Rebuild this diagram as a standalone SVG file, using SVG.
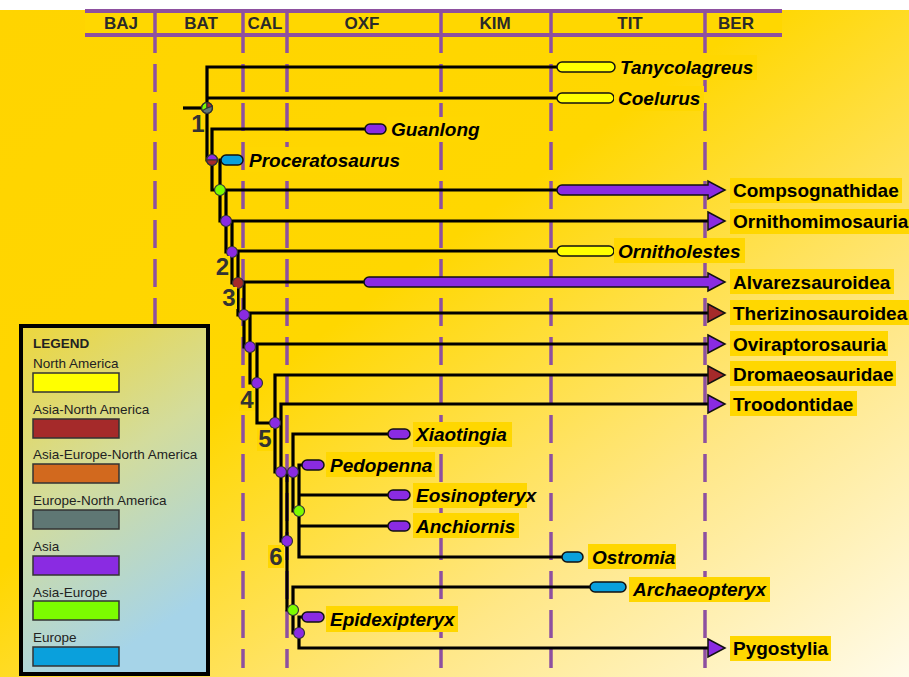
<svg xmlns="http://www.w3.org/2000/svg" width="909" height="677" viewBox="0 0 909 677">
<defs>
<linearGradient id="bg" x1="0" y1="0" x2="1" y2="1">
<stop offset="0" stop-color="#FFD400"/>
<stop offset="0.42" stop-color="#FFD700"/>
<stop offset="0.72" stop-color="#FFE786"/>
<stop offset="1" stop-color="#FFFBEA"/>
</linearGradient>
<linearGradient id="lg" x1="0" y1="0" x2="0.35" y2="1">
<stop offset="0" stop-color="#EDD63C"/>
<stop offset="0.5" stop-color="#D3DC9C"/>
<stop offset="1" stop-color="#A6D4E8"/>
</linearGradient>
<style>
.hdr{stroke:#8E50A0;stroke-width:4;fill:none}
.div{stroke:#8E50A0;stroke-width:3.5;fill:none}
.dash{stroke:#8E50A0;stroke-width:3.5;stroke-dasharray:28 11;fill:none}
.ht{font-family:"Liberation Sans Narrow","Liberation Sans",Arial,sans-serif;font-weight:bold;font-size:17px;fill:#2a2a2a;text-anchor:middle}
.br{stroke:#000;stroke-width:3.2;fill:none;stroke-linejoin:miter}
.bar{stroke:#111;stroke-width:1.5}
.nd{stroke:#333;stroke-width:1.2}
.box{fill:#FFD700}
.lab{font-family:"Liberation Sans",Arial,sans-serif;font-weight:bold;font-size:19px;fill:#000}
.it{font-style:italic}
.num{font-family:"Liberation Sans",Arial,sans-serif;font-weight:bold;font-size:24px;fill:#333;text-anchor:middle}
.lgt{font-family:"Liberation Sans",Arial,sans-serif;font-size:13.5px;fill:#222}
.sw{stroke:#333;stroke-width:1.5}
.NA{fill:#FFFF00}.ANA{fill:#A52A2A}.AENA{fill:#D2691E}.ENA{fill:#5F7774}.AS{fill:#8A2BE2}.AE{fill:#7CFC00}.EU{fill:#0AA0DC}
</style>
</defs>
<rect x="0" y="0" width="909" height="677" fill="#FFFFFF"/>
<rect x="0" y="10" width="909" height="667" fill="url(#bg)"/>

<g id="timescale">
<g class="dash">
<line x1="155" y1="25" x2="155" y2="668"/>
<line x1="243" y1="25" x2="243" y2="668"/>
<line x1="287" y1="25" x2="287" y2="668"/>
<line x1="441" y1="25" x2="441" y2="668"/>
<line x1="551" y1="25" x2="551" y2="668"/>
<line x1="705" y1="25" x2="705" y2="668"/>
</g>
<rect x="85" y="11" width="697" height="24" fill="#FFD700"/>
<line class="hdr" x1="85" y1="11" x2="782" y2="11"/>
<line class="hdr" x1="85" y1="35" x2="782" y2="35"/>
<g class="div">
<line x1="155" y1="11" x2="155" y2="35"/>
<line x1="243" y1="11" x2="243" y2="35"/>
<line x1="287" y1="11" x2="287" y2="35"/>
<line x1="441" y1="11" x2="441" y2="35"/>
<line x1="551" y1="11" x2="551" y2="35"/>
<line x1="705" y1="11" x2="705" y2="35"/>
</g>
<text class="ht" x="121" y="29">BAJ</text>
<text class="ht" x="201" y="29">BAT</text>
<text class="ht" x="265" y="29">CAL</text>
<text class="ht" x="362" y="29">OXF</text>
<text class="ht" x="495" y="29">KIM</text>
<text class="ht" x="630" y="29">TIT</text>
<text class="ht" x="736" y="29">BER</text>
</g>

<g id="legend">
<rect x="21" y="326" width="187" height="348" fill="url(#lg)" stroke="#000" stroke-width="4"/>
<text class="lgt" x="33" y="348" font-weight="bold">LEGEND</text>
<text class="lgt" x="33" y="368">North America</text>
<rect class="sw NA" x="33" y="373" width="86" height="19"/>
<text class="lgt" x="33" y="414">Asia-North America</text>
<rect class="sw ANA" x="33" y="419" width="86" height="19"/>
<text class="lgt" x="33" y="459">Asia-Europe-North America</text>
<rect class="sw AENA" x="33" y="464" width="86" height="19"/>
<text class="lgt" x="33" y="505">Europe-North America</text>
<rect class="sw ENA" x="33" y="510" width="86" height="19"/>
<text class="lgt" x="33" y="551">Asia</text>
<rect class="sw AS" x="33" y="556" width="86" height="19"/>
<text class="lgt" x="33" y="597">Asia-Europe</text>
<rect class="sw AE" x="33" y="601" width="86" height="19"/>
<text class="lgt" x="33" y="642">Europe</text>
<rect class="sw EU" x="33" y="647" width="86" height="19"/>
</g>

<g id="connectors" class="br">
<path d="M183,108 H207"/>
<path d="M557,67 H207 V160 H212"/>
<path d="M207,98 H557"/>
<path d="M366,129 H212 V190 H220"/>
<path d="M222,160 H220 V190"/>
<path d="M557,190 H226 V252 H232"/>
<path d="M220,190 V221 H226"/>
<path d="M708,221 H232 V283 H238"/>
<path d="M557,251 H238 V315 H244"/>
<path d="M366,282 H244 V347 H250"/>
<path d="M708,313 H250 V383 H257"/>
<path d="M708,344 H257 V423 H275"/>
<path d="M708,375 H275 V472 H281"/>
<path d="M708,404 H281 V541 H287"/>
<path d="M293,472 H287 V610 H293"/>
<path d="M390,434 H293 V511 H299"/>
<path d="M303,465 H299 V557 H563"/>
<path d="M299,495 H390"/>
<path d="M299,526 H390"/>
<path d="M591,587 H293 V633 H299"/>
<path d="M303,617 H299 V648 H708"/>
</g>

<g id="bars" class="bar">
<rect class="NA" x="557" y="62" width="58" height="10" rx="5"/>
<rect class="NA" x="557" y="93" width="57" height="10" rx="5"/>
<rect class="AS" x="365" y="124" width="21" height="10" rx="5"/>
<rect class="EU" x="221" y="155" width="22" height="10" rx="5"/>
<path class="AS" d="M562,185 H708 V181 L725,190 L708,199 V195 H562 A5,5 0 0 1 562,185 Z"/>
<polygon class="AS" points="708,212 725,221 708,230"/>
<rect class="NA" x="557" y="246" width="57" height="10" rx="5"/>
<path class="AS" d="M369,277 H708 V273 L725,282 L708,291 V287 H369 A5,5 0 0 1 369,277 Z"/>
<polygon class="ANA" points="708,304 725,313 708,322"/>
<polygon class="AS" points="708,335 725,344 708,353"/>
<polygon class="ANA" points="708,366 725,375 708,384"/>
<polygon class="AS" points="708,395 725,404 708,413"/>
<rect class="AS" x="388" y="429" width="22" height="10" rx="5"/>
<rect class="AS" x="302" y="460" width="22" height="10" rx="5"/>
<rect class="AS" x="388" y="490" width="22" height="10" rx="5"/>
<rect class="AS" x="388" y="521" width="22" height="10" rx="5"/>
<rect class="EU" x="562" y="552" width="21" height="10" rx="5"/>
<rect class="EU" x="590" y="582" width="36" height="10" rx="5"/>
<rect class="AS" x="302" y="612" width="22" height="10" rx="5"/>
<polygon class="AS" points="708,639 725,648 708,657"/>
</g>

<g id="nodes" class="nd">
<g id="node1">
<circle class="ENA" cx="207" cy="108" r="5.5"/>
<path class="AE" d="M207,108 L207,102.5 A5.5,5.5 0 0 0 202.2,110.7 Z"/>
<path class="ANA" d="M207,108 L207,102.5 A5.5,5.5 0 0 1 212.2,106.3 Z"/>
<circle cx="207" cy="108" r="5.5" fill="none"/>
</g>
<g id="nodeP">
<path class="AS" d="M206.5,160 A5.5,5.5 0 0 1 217.5,160 Z"/>
<path class="ANA" d="M206.5,160 A5.5,5.5 0 0 0 217.5,160 Z"/>
<circle cx="212" cy="160" r="5.5" fill="none"/>
</g>
<circle id="nodeG1" class="AE" cx="220" cy="190" r="5.5"/>
<circle id="nodeA" class="AS" cx="226" cy="221" r="5.5"/>
<circle id="nodeB" class="AS" cx="232" cy="252" r="5.5"/>
<circle id="nodeC" class="ANA" cx="238" cy="283" r="5.5"/>
<circle id="nodeD" class="AS" cx="244" cy="315" r="5.5"/>
<circle id="nodeE" class="AS" cx="250" cy="347" r="5.5"/>
<circle id="nodeF" class="AS" cx="257" cy="383" r="5.5"/>
<circle id="nodeG" class="AS" cx="275" cy="423" r="5.5"/>
<circle id="nodeH" class="AS" cx="281" cy="472" r="5.5"/>
<circle id="nodeI" class="AS" cx="293" cy="472" r="5.5"/>
<circle id="nodeJ" class="AE" cx="299" cy="511" r="5.5"/>
<circle id="nodeK" class="AS" cx="287" cy="541" r="5.5"/>
<circle id="nodeL" class="AE" cx="293" cy="610" r="5.5"/>
<circle id="nodeM" class="AS" cx="299" cy="633" r="5.5"/>
</g>

<g id="numbers">
<text class="num" x="198" y="132">1</text>
<rect class="box" x="215" y="256" width="15" height="22"/>
<text class="num" x="222.5" y="275">2</text>
<rect class="box" x="222" y="287" width="15" height="22"/>
<text class="num" x="229" y="306">3</text>
<rect class="box" x="239" y="388" width="16" height="23"/>
<text class="num" x="247" y="408">4</text>
<rect class="box" x="257" y="428" width="16" height="23"/>
<text class="num" x="265" y="447">5</text>
<rect class="box" x="268" y="545" width="16" height="23"/>
<text class="num" x="276" y="565">6</text>
</g>

<g id="labels">
<g id="t-tanycolagreus"><rect class="box" x="616" y="55" width="141" height="25"/><text class="lab it" x="620" y="74">Tanycolagreus</text></g>
<g id="t-coelurus"><rect class="box" x="614" y="86" width="90" height="25"/><text class="lab it" x="618" y="105">Coelurus</text></g>
<g id="t-guanlong"><rect class="box" x="387" y="117" width="97" height="25"/><text class="lab it" x="391" y="136">Guanlong</text></g>
<g id="t-proceratosaurus"><rect class="box" x="245" y="147" width="158" height="25"/><text class="lab it" x="249" y="167">Proceratosaurus</text></g>
<g id="t-compsognathidae"><rect class="box" x="730" y="178" width="172" height="25"/><text class="lab" x="733" y="197">Compsognathidae</text></g>
<g id="t-ornithomimosauria"><rect class="box" x="730" y="209" width="181" height="25"/><text class="lab" x="733" y="228">Ornithomimosauria</text></g>
<g id="t-ornitholestes"><rect class="box" x="614" y="238" width="131" height="25"/><text class="lab it" x="618" y="258">Ornitholestes</text></g>
<g id="t-alvarezsauroidea"><rect class="box" x="730" y="269" width="164" height="25"/><text class="lab" x="733" y="289">Alvarezsauroidea</text></g>
<g id="t-therizinosauroidea"><rect class="box" x="730" y="300" width="181" height="25"/><text class="lab" x="733" y="320">Therizinosauroidea</text></g>
<g id="t-oviraptorosauria"><rect class="box" x="730" y="331" width="158" height="25"/><text class="lab" x="733" y="351">Oviraptorosauria</text></g>
<g id="t-dromaeosauridae"><rect class="box" x="730" y="361" width="166" height="25"/><text class="lab" x="733" y="381">Dromaeosauridae</text></g>
<g id="t-troodontidae"><rect class="box" x="730" y="391" width="127" height="25"/><text class="lab" x="733" y="411">Troodontidae</text></g>
<g id="t-xiaotingia"><rect class="box" x="413" y="422" width="99" height="25"/><text class="lab it" x="416" y="441">Xiaotingia</text></g>
<g id="t-pedopenna"><rect class="box" x="326" y="452" width="109" height="25"/><text class="lab it" x="330" y="472">Pedopenna</text></g>
<g id="t-eosinopteryx"><rect class="box" x="413" y="483" width="114" height="25"/><text class="lab it" x="416" y="502">Eosinopteryx</text></g>
<g id="t-anchiornis"><rect class="box" x="413" y="513" width="106" height="25"/><text class="lab it" x="416" y="533">Anchiornis</text></g>
<g id="t-ostromia"><rect class="box" x="588" y="544" width="88" height="25"/><text class="lab it" x="592" y="564">Ostromia</text></g>
<g id="t-archaeopteryx"><rect class="box" x="629" y="577" width="141" height="25"/><text class="lab it" x="633" y="596">Archaeopteryx</text></g>
<g id="t-epidexipteryx"><rect class="box" x="326" y="606" width="132" height="26"/><text class="lab it" x="330" y="626">Epidexipteryx</text></g>
<g id="t-pygostylia"><rect class="box" x="730" y="636" width="101" height="25"/><text class="lab" x="733" y="655">Pygostylia</text></g>
</g>
</svg>
